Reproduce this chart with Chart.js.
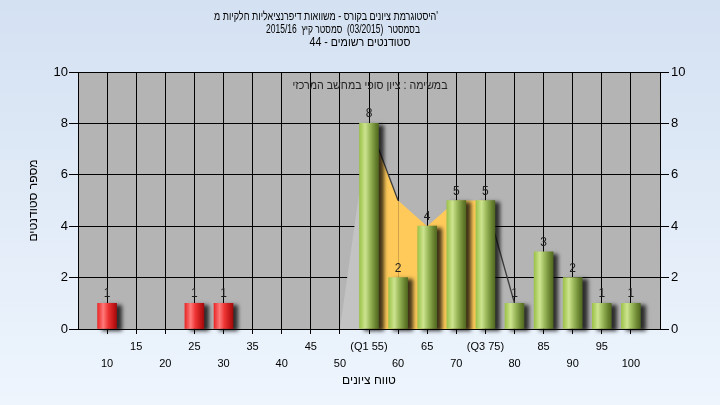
<!DOCTYPE html>
<html><head><meta charset="utf-8">
<script src="https://cdn.jsdelivr.net/npm/chart.js@4/dist/chart.umd.min.js"></script>
<style>html,body{margin:0;padding:0;background:#e2ecf8}#wrap{width:720px;height:405px}</style>
</head><body><div id="wrap"><canvas id="c" width="720" height="405"></canvas></div>
<script>
const titleLines = [
  "היסטוגרמת ציונים בקורס - משוואות דיפרנציאליות חלקיות מ'",
  "בסמסטר  (03/2015)  סמסטר קיץ  2015/16",
  "סטודנטים רשומים - 44"
];
const noteText = "במשימה : ציון סופי במחשב המרכזי";
const xTitle = "טווח ציונים";
const yTitle = "מספר סטודנטים";

const failScores = [10, 25, 30];
const failCounts = [1, 1, 1];
const passScores = [55, 60, 65, 70, 75, 80, 85, 90, 95, 100];
const passCounts = [8, 2, 4, 5, 5, 1, 3, 2, 1, 1];
const areaScores = [50, 55, 60, 65, 70, 75, 80];
const areaValues = [0, 8, 5, 4, 5, 5, 1];
const tickValues = [10, 15, 20, 25, 30, 35, 40, 45, 50, 55, 60, 65, 70, 75, 80, 85, 90, 95, 100];
const tickLabels = ["10", "15", "20", "25", "30", "35", "40", "45", "50", "(Q1 55)", "60", "65", "70", "(Q3 75)", "80", "85", "90", "95", "100"];

const FONT = '"Liberation Sans", "DejaVu Sans", Arial, sans-serif';
const BAR_W = 19;

function barFill(stops, fallback) {
  return (c) => {
    const chart = c.chart;
    const xs = chart.scales && chart.scales.x;
    if (!xs || !chart.chartArea || !c.raw) return fallback;
    const cx = xs.getPixelForValue(c.raw.x);
    const g = chart.ctx.createLinearGradient(cx - BAR_W / 2, 0, cx + BAR_W / 2, 0);
    stops.forEach(s => g.addColorStop(s[0], s[1]));
    return g;
  };
}
const greenStops = [[0, '#9cc24a'], [0.3, '#cde48f'], [0.55, '#9ab85a'], [0.85, '#67812e'], [1, '#526a22']];
const redStops = [[0, '#e82828'], [0.3, '#ff7a7a'], [0.55, '#ee3434'], [0.85, '#c01616'], [1, '#a00c0c']];

function fitText(ctx, text, cx, cy, width) {
  const w = ctx.measureText(text).width;
  const k = Math.min(1, width / w);
  ctx.save();
  ctx.translate(cx, cy);
  ctx.scale(k, 1);
  ctx.fillText(text, 0, 0);
  ctx.restore();
}

const decor = {
  id: 'decor',
  beforeDraw(chart) {
    const {ctx, chartArea: a} = chart;
    ctx.save();
    const g = ctx.createLinearGradient(0, 0, 0, chart.height);
    g.addColorStop(0, '#d4e1f2');
    g.addColorStop(1, '#eef5fd');
    ctx.fillStyle = g;
    ctx.fillRect(0, 0, chart.width, chart.height);
    ctx.fillStyle = '#b4b4b4';
    ctx.fillRect(a.left, a.top, a.right - a.left, a.bottom - a.top);
    ctx.restore();
  },
  beforeDatasetDraw(chart, args) {
    if (args.meta.type !== 'bar') return;
    const ctx = chart.ctx;
    ctx.save();
    ctx.shadowColor = 'rgba(0,0,0,0.75)';
    ctx.shadowOffsetX = 5;
    ctx.shadowOffsetY = 2;
    ctx.shadowBlur = 4;
  },
  afterDatasetDraw(chart, args) {
    if (args.meta.type !== 'bar') return;
    chart.ctx.restore();
  },
  afterDraw(chart) {
    const {ctx, chartArea: a} = chart;
    ctx.save();
    ctx.fillStyle = '#1e1e1e';
    ctx.font = '12px ' + FONT;
    ctx.textAlign = 'center';
    ctx.textBaseline = 'alphabetic';
    chart.data.datasets.forEach((ds, i) => {
      const meta = chart.getDatasetMeta(i);
      if (meta.type !== 'bar') return;
      meta.data.forEach((el, j) => {
        ctx.fillText(String(ds.data[j].y), el.x, el.y - 6);
      });
    });
    ctx.fillStyle = '#222';
    ctx.textBaseline = 'middle';
    fitText(ctx, noteText, (a.left + a.right) / 2 + 1, a.top + 14, 155);
    ctx.fillStyle = '#000';
    ctx.font = '12px ' + FONT;
    const centers = [326, 343, 360];
    const widths = [224, 154, 101];
    titleLines.forEach((t, i) => fitText(ctx, t, centers[i], 17 + i * 13, widths[i]));
    ctx.restore();
  }
};

new Chart(document.getElementById('c'), {
  type: 'bar',
  data: {
    datasets: [
      {
        type: 'line',
        data: areaScores.map((x, i) => ({x, y: areaValues[i]})),
        fill: 'origin',
        order: 3,
        pointRadius: 0,
        borderWidth: 1.3,
        tension: 0,
        backgroundColor: '#ffca5a',
        borderColor: 'rgba(0,0,0,0)',
        segment: {
          backgroundColor: s => s.p0DataIndex === 0 ? '#c3c3c3' : (s.p0DataIndex >= 5 ? 'rgba(0,0,0,0)' : '#ffca5a'),
          borderColor: s => (s.p0DataIndex === 1 || s.p0DataIndex === 5) ? '#3c3c3c' : 'rgba(0,0,0,0)'
        }
      },
      {
        data: failScores.map((x, i) => ({x, y: failCounts[i]})),
        backgroundColor: barFill(redStops, '#e02020'),
        barThickness: BAR_W,
        grouped: false,
        order: 1,
        clip: false
      },
      {
        data: passScores.map((x, i) => ({x, y: passCounts[i]})),
        backgroundColor: barFill(greenStops, '#9cc24a'),
        barThickness: BAR_W,
        grouped: false,
        order: 1,
        clip: false
      }
    ]
  },
  options: {
    responsive: false,
    animation: false,
    devicePixelRatio: 1,
    layout: {padding: {top: 72, left: 0, right: 0, bottom: 0}},
    plugins: {legend: {display: false}, tooltip: {enabled: false}, title: {display: false}},
    scales: {
      x: {
        type: 'linear', position: 'bottom', min: 5, max: 105, offset: false,
        afterBuildTicks: s => { s.ticks = tickValues.map(v => ({value: v})); },
        afterFit: s => { s.height = 76; },
        grid: {color: '#000', lineWidth: 1, tickLength: 5, drawTicks: true, offset: false},
        border: {color: '#000'},
        ticks: {
          autoSkip: false, maxRotation: 0, minRotation: 0, padding: 4, color: '#000',
          font: {size: 11, family: FONT, lineHeight: 1.55},
          callback: (v) => {
            const i = tickValues.indexOf(v);
            if (i < 0) return '';
            return i % 2 === 1 ? [tickLabels[i], ''] : ['', tickLabels[i]];
          }
        },
        title: {display: true, text: xTitle, color: '#000', font: {size: 12, family: FONT}, padding: {top: 0, bottom: 17}}
      },
      y: {
        position: 'left', min: 0, max: 10,
        afterFit: s => { s.width = 78; },
        grid: {color: '#000', lineWidth: 1, tickLength: 9},
        border: {color: '#000'},
        ticks: {stepSize: 2, padding: 1, color: '#000', font: {size: 13, family: FONT}},
        title: {display: true, text: yTitle, color: '#000', font: {size: 12, family: FONT}, padding: {top: 26, bottom: 0}}
      },
      y2: {
        position: 'right', min: 0, max: 10,
        afterFit: s => { s.width = 60; },
        grid: {color: '#000', lineWidth: 1, tickLength: 9, drawOnChartArea: false},
        border: {color: '#000'},
        ticks: {stepSize: 2, padding: 2, color: '#000', font: {size: 13, family: FONT}}
      }
    }
  },
  plugins: [decor]
});
</script>
</body></html>
